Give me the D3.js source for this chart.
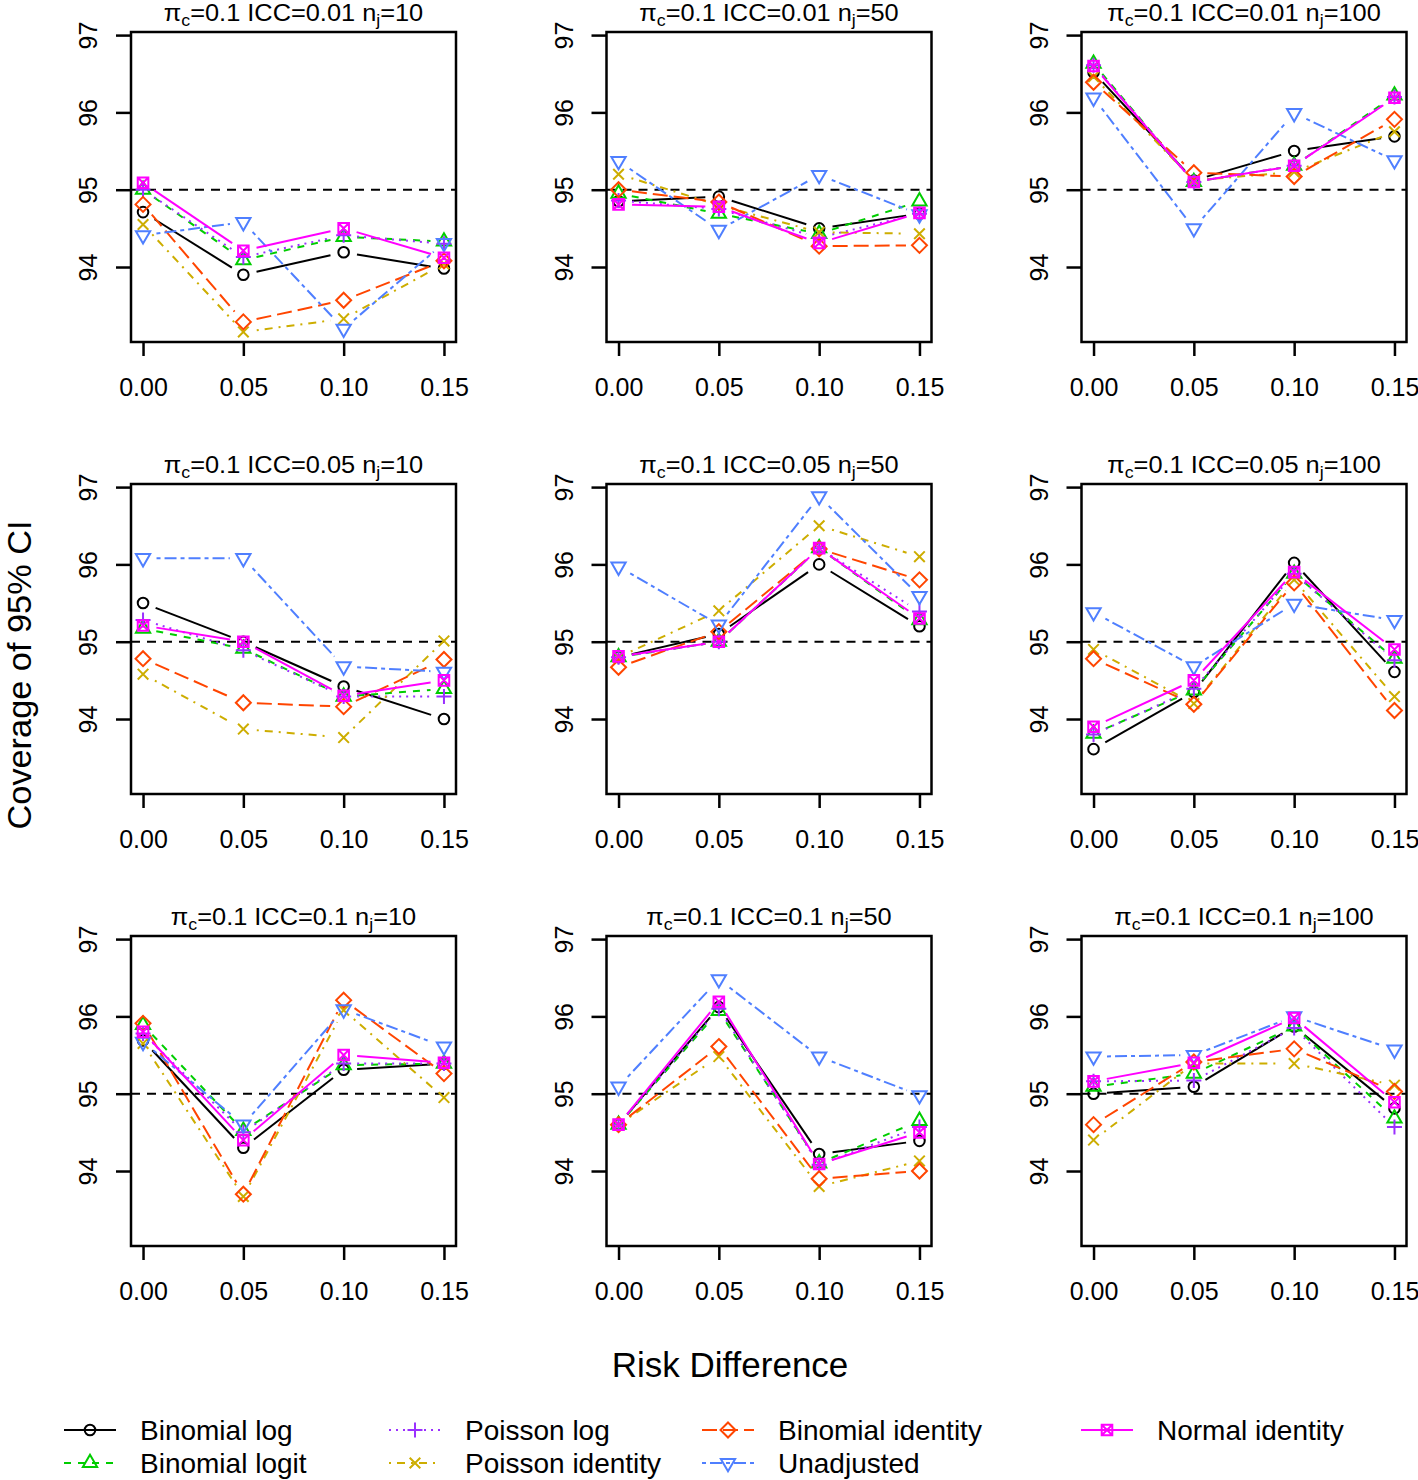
<!DOCTYPE html>
<html><head><meta charset="utf-8">
<script src="https://cdn.jsdelivr.net/npm/d3@7"></script>
<style>
body{margin:0;background:#fff}
text{font-family:"Liberation Sans",Arial,Helvetica,sans-serif;fill:#000}
</style>
</head><body>
<svg id="chart" width="1418" height="1480"></svg>
<script>
// ---------------- DATA ----------------
const riskDiff = [0, 0.05, 0.10, 0.15];
const xTickLabels = ["0.00", "0.05", "0.10", "0.15"];
const yTicks = [94, 95, 96, 97];
const iccLevels = ["0.01", "0.05", "0.1"];   // panel rows
const njLevels = ["10", "50", "100"];        // panel columns
const piC = "0.1";
const methodNames = ["Binomial log", "Binomial logit", "Poisson log", "Poisson identity",
                     "Binomial identity", "Unadjusted", "Normal identity"];

// each array: 9 panels (row-major: ICC row, n_j column) x 4 risk differences
const binomialLog = [
  [94.71, 93.90, 94.19, 93.98], [94.85, 94.91, 94.50, 94.69], [96.52, 95.12, 95.50, 95.69],
  [95.50, 95.00, 94.42, 94.00], [94.80, 95.10, 96.00, 95.20], [93.61, 94.35, 96.02, 94.61],
  [95.69, 94.30, 95.31, 95.39], [94.60, 96.12, 94.22, 94.39], [95.00, 95.09, 95.87, 94.81]
];
const binomialLogit = [
  [95.00, 94.09, 94.39, 94.33], [94.95, 94.69, 94.43, 94.85], [96.63, 95.10, 95.31, 96.22],
  [95.17, 94.91, 94.29, 94.39], [94.80, 95.00, 96.21, 95.28], [93.81, 94.37, 95.88, 94.78],
  [95.89, 94.52, 95.37, 95.39], [94.60, 96.07, 94.10, 94.65], [95.09, 95.26, 95.87, 94.68]
];
const poissonLog = [
  [95.00, 94.13, 94.41, 94.30], [94.86, 94.75, 94.38, 94.69], [96.61, 95.10, 95.31, 96.20],
  [95.28, 94.89, 94.29, 94.29], [94.80, 95.00, 96.21, 95.39], [93.80, 94.39, 95.88, 94.76],
  [95.78, 94.50, 95.39, 95.39], [94.60, 96.10, 94.08, 94.57], [95.16, 95.17, 95.85, 94.57]
];
const poissonIdentity = [
  [94.55, 93.16, 93.33, 94.04], [95.20, 94.80, 94.45, 94.43], [96.46, 95.12, 95.23, 95.75],
  [94.58, 93.87, 93.76, 95.01], [94.80, 95.40, 96.50, 96.10], [94.90, 94.20, 95.80, 94.29],
  [95.65, 93.67, 96.08, 94.95], [94.60, 95.48, 93.80, 94.13], [94.40, 95.39, 95.39, 95.11]
];
const binomialIdentity = [
  [94.81, 93.29, 93.57, 94.08], [95.00, 94.84, 94.27, 94.28], [96.39, 95.22, 95.17, 95.91],
  [94.78, 94.21, 94.16, 94.77], [94.67, 95.13, 96.20, 95.80], [94.78, 94.19, 95.76, 94.11],
  [95.91, 93.70, 96.21, 95.26], [94.60, 95.61, 93.90, 94.00], [94.60, 95.41, 95.58, 95.03]
];
const unadjusted = [
  [94.41, 94.58, 93.20, 94.31], [95.37, 94.48, 95.19, 94.68], [96.19, 94.50, 95.99, 95.38],
  [96.08, 96.08, 94.68, 94.61], [95.97, 95.22, 96.88, 95.59], [95.38, 94.68, 95.49, 95.28],
  [95.67, 94.60, 96.09, 95.61], [95.09, 96.48, 95.48, 94.98], [95.48, 95.50, 96.00, 95.57]
];
const normalIdentity = [
  [95.09, 94.21, 94.50, 94.12], [94.81, 94.78, 94.31, 94.70], [96.60, 95.10, 95.31, 96.19],
  [95.21, 95.00, 94.30, 94.50], [94.81, 95.00, 96.21, 95.30], [93.90, 94.50, 95.90, 94.90],
  [95.80, 94.40, 95.50, 95.40], [94.60, 96.19, 94.09, 94.50], [95.16, 95.40, 95.98, 94.89]
];
const nominalCoverage = 95;

// ---------------- STYLE / LAYOUT ----------------
const seriesValues = [binomialLog, binomialLogit, poissonLog, poissonIdentity,
                      binomialIdentity, unadjusted, normalIdentity];
const methodColors = ["#000000", "#00CD00", "#9B30FF", "#CDAD00", "#FF4500", "#4F7FFF", "#FF00FF"];
const methodDash = [null, "7,7", "2,5", "2,6,8,6", "15,6", "4,4,12,4", null];
const methodPch = [1, 2, 3, 4, 5, 6, 7];

const series = methodNames.map((name, i) => ({
  name, values: seriesValues[i], color: methodColors[i], dash: methodDash[i], pch: methodPch[i]
}));

const panelLefts = [131, 606.5, 1081.5];
const panelTops = [32, 484, 936];
const PW = 325, PH = 310;
const xDomain = [-0.006, 0.156];
const yDomain = [93.03, 97.04];
const GAP = 13.5;
const R = 5.3;

const svg = d3.select("#chart");

function markerPath(pch) {
  const t0 = 1.555 * R, t1 = 1.347 * R, t2 = 0.778 * R, d = R * Math.SQRT2;
  switch (pch) {
    case 2: return `M0,${-t0}L${t1},${t2}L${-t1},${t2}Z`;
    case 3: return `M${-d},0H${d}M0,${-d}V${d}`;
    case 4: return `M${-R},${-R}L${R},${R}M${-R},${R}L${R},${-R}`;
    case 5: return `M0,${-d}L${d},0L0,${d}L${-d},0Z`;
    case 6: return `M0,${t0}L${t1},${-t2}L${-t1},${-t2}Z`;
    case 7: return `M${-R},${-R}H${R}V${R}H${-R}Z M${-R},${-R}L${R},${R}M${-R},${R}L${R},${-R}`;
  }
  return null;
}
function drawMarker(sel, pch, color) {
  if (pch === 1) {
    sel.append("circle").attr("r", R).attr("fill", "none").attr("stroke", color).attr("stroke-width", 2);
  } else {
    sel.append("path").attr("d", markerPath(pch)).attr("fill", "none")
      .attr("stroke", color).attr("stroke-width", 2).attr("stroke-linejoin", "miter");
  }
}

iccLevels.forEach((icc, r) => {
  njLevels.forEach((nj, c) => {
    const p = r * 3 + c;
    const g = svg.append("g").attr("transform", `translate(${panelLefts[c]},${panelTops[r]})`);
    const x = d3.scaleLinear().domain(xDomain).range([0, PW]);
    const y = d3.scaleLinear().domain(yDomain).range([PH, 0]);

    // reference line
    g.append("line").attr("x1", 0).attr("x2", PW)
      .attr("y1", y(nominalCoverage)).attr("y2", y(nominalCoverage))
      .attr("stroke", "#000").attr("stroke-width", 2).attr("stroke-dasharray", "9,7");

    // series (type = "b": lines with gaps around points)
    series.forEach(s => {
      const vals = s.values[p];
      const pts = riskDiff.map((d, i) => [x(d), y(vals[i])]);
      const segs = [];
      for (let i = 0; i < pts.length - 1; i++) {
        const [x0, y0] = pts[i], [x1, y1] = pts[i + 1];
        const L = Math.hypot(x1 - x0, y1 - y0);
        if (L <= 2 * GAP) continue;
        const ux = (x1 - x0) / L, uy = (y1 - y0) / L;
        segs.push([[x0 + ux * GAP, y0 + uy * GAP], [x1 - ux * GAP, y1 - uy * GAP]]);
      }
      const sg = g.append("g");
      sg.selectAll("path.seg").data(segs).join("path").attr("class", "seg")
        .attr("d", d => d3.line()(d))
        .attr("fill", "none").attr("stroke", s.color).attr("stroke-width", 2)
        .attr("stroke-dasharray", s.dash);
      sg.selectAll("g.pt").data(pts).join("g").attr("class", "pt")
        .attr("transform", d => `translate(${d[0]},${d[1]})`)
        .each(function () { drawMarker(d3.select(this), s.pch, s.color); });
    });

    // box
    g.append("rect").attr("x", 0).attr("y", 0).attr("width", PW).attr("height", PH)
      .attr("fill", "none").attr("stroke", "#000").attr("stroke-width", 2.5);

    // x axis
    const xa = g.append("g").attr("transform", `translate(0,${PH})`)
      .call(d3.axisBottom(x).tickValues(riskDiff).tickFormat((d, i) => xTickLabels[i])
        .tickSize(14).tickPadding(22));
    xa.select(".domain").remove();
    xa.selectAll(".tick line").attr("stroke-width", 2.5);
    xa.selectAll(".tick text").attr("font-size", 25).attr("font-family", null);

    // y axis
    const ya = g.append("g")
      .call(d3.axisLeft(y).tickValues(yTicks).tickFormat(d3.format("d")).tickSize(15));
    ya.select(".domain").remove();
    ya.selectAll(".tick line").attr("stroke-width", 2.5);
    ya.selectAll(".tick text").attr("font-size", 25).attr("font-family", null)
      .attr("x", null).attr("dy", null).attr("text-anchor", "middle")
      .attr("transform", "translate(-34,0) rotate(-90)");

    // title
    const t = g.append("g").attr("transform", `translate(${PW / 2},-11.5) scale(1.08,1)`)
      .append("text").attr("text-anchor", "middle").attr("font-size", 23.5);
    t.append("tspan").text("\u03c0");
    t.append("tspan").attr("font-size", "70%").attr("dy", 5).text("c");
    t.append("tspan").attr("dy", -5).text(`=${piC} ICC=${icc} n`);
    t.append("tspan").attr("font-size", "70%").attr("dy", 5).text("j");
    t.append("tspan").attr("dy", -5).text(`=${nj}`);
  });
});

// axis titles
svg.append("text").attr("x", 730).attr("y", 1377).attr("text-anchor", "middle")
  .attr("font-size", 35).text("Risk Difference");
svg.append("g").attr("transform", "translate(30.5,675) rotate(-90) scale(1.04,1)")
  .append("text").attr("text-anchor", "middle")
  .attr("font-size", 33).text("Coverage of 95% CI");

// legend
const legCols = [90, 415, 728, 1107];
const legRows = [1430, 1463];
const leg = svg.append("g");
series.forEach((s, i) => {
  const cx = legCols[Math.floor(i / 2)], cy = legRows[i % 2];
  const lg = leg.append("g").attr("transform", `translate(${cx},${cy})`);
  lg.append("line").attr("x1", -26).attr("x2", 26).attr("y1", 0).attr("y2", 0)
    .attr("stroke", s.color).attr("stroke-width", 2).attr("stroke-dasharray", s.dash);
  drawMarker(lg, s.pch, s.color);
  lg.append("text").attr("x", 50).attr("y", 10).attr("font-size", 28).text(s.name);
});
</script>
</body></html>
